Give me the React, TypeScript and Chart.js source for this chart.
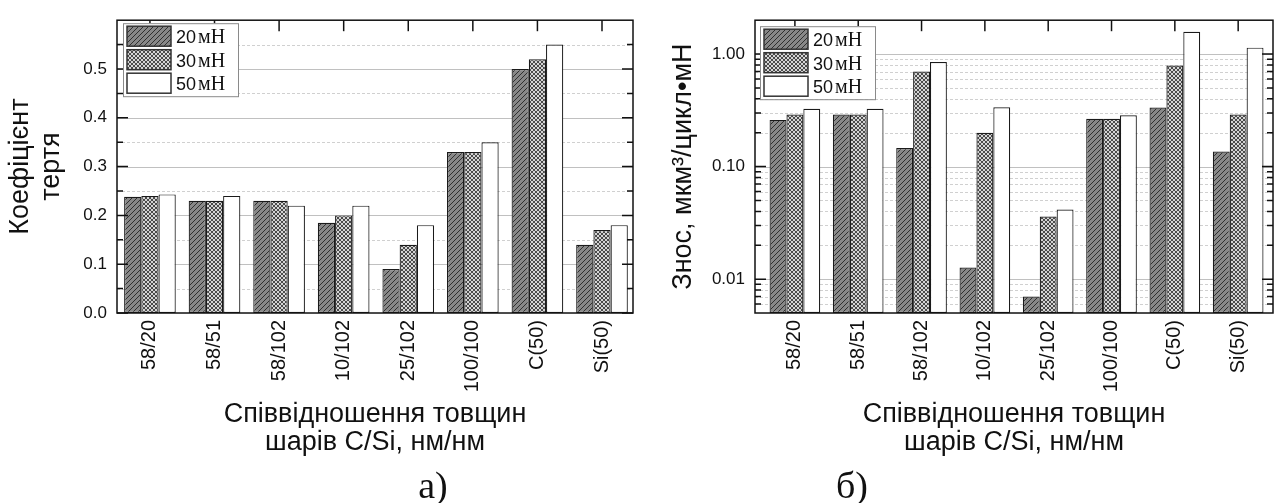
import React, { useEffect, useRef } from 'react';
import { Chart, registerables } from 'chart.js';

Chart.register(...registerables);

const SANS = '"Liberation Sans", Arial, sans-serif';
const SERIF = '"Liberation Serif", "Times New Roman", serif';

// ---- data ----
const categories = ['58/20', '58/51', '58/102', '10/102', '25/102', '100/100', 'C(50)', 'Si(50)'];
const loads = ['20', '30', '50'];
const loadUnit = 'мН';

const friction20 = [0.238, 0.23, 0.23, 0.185, 0.09, 0.33, 0.5, 0.14];
const friction30 = [0.24, 0.23, 0.23, 0.2, 0.14, 0.33, 0.52, 0.17];
const friction50 = [0.243, 0.24, 0.22, 0.22, 0.18, 0.35, 0.55, 0.18];

const wear20 = [0.26, 0.29, 0.146, 0.0127, 0.007, 0.266, 0.335, 0.136];
const wear30 = [0.29, 0.29, 0.7, 0.2, 0.036, 0.266, 0.79, 0.29];
const wear50 = [0.327, 0.327, 0.85, 0.337, 0.0415, 0.286, 1.58, 1.14];

const frictionTicks = [0, 0.1, 0.2, 0.3, 0.4, 0.5];
const frictionMinor = [0.05, 0.15, 0.25, 0.35, 0.45, 0.55];
const wearTicks = [0.01, 0.1, 1];
const wearMinor = [0.006, 0.007, 0.008, 0.009, 0.02, 0.03, 0.04, 0.05, 0.06, 0.07, 0.08, 0.09, 0.2, 0.3, 0.4, 0.5, 0.6, 0.7, 0.8, 0.9];

const xTitle = ['Співвідношення товщин', 'шарів C/Si, нм/нм'];
const frictionTitle = ['Коефіцієнт', 'тертя'];
const wearTitle = 'Знос, мкм³/цикл•мН';

function makePatterns(ctx: CanvasRenderingContext2D) {
  const h = document.createElement('canvas');
  h.width = 5; h.height = 5;
  const g = h.getContext('2d')!;
  g.fillStyle = '#888888';
  g.fillRect(0, 0, 5, 5);
  g.strokeStyle = '#303030';
  g.lineWidth = 1;
  g.beginPath();
  g.moveTo(-1, 6); g.lineTo(6, -1);
  g.moveTo(-1, 1); g.lineTo(1, -1);
  g.moveTo(4, 6); g.lineTo(6, 4);
  g.stroke();

  const c = document.createElement('canvas');
  c.width = 4; c.height = 4;
  const k = c.getContext('2d')!;
  k.fillStyle = '#d4d4d4';
  k.fillRect(0, 0, 4, 4);
  k.strokeStyle = '#4a4a4a';
  k.lineWidth = 1;
  k.beginPath();
  k.moveTo(0, 0); k.lineTo(4, 4);
  k.moveTo(4, 0); k.lineTo(0, 4);
  k.stroke();

  return [ctx.createPattern(h, 'repeat')!, ctx.createPattern(c, 'repeat')!, '#ffffff'];
}

const decorPlugin = {
  id: 'decor',
  beforeDatasetsDraw(chart: any, _a: any, o: any) {
    const { ctx, chartArea: ca, scales } = chart;
    const y = scales.y;
    ctx.save();
    ctx.beginPath();
    ctx.rect(ca.left, ca.top, ca.right - ca.left, ca.bottom - ca.top);
    ctx.clip();
    ctx.lineWidth = 1;
    ctx.strokeStyle = '#d0d0d0';
    ctx.setLineDash([3, 2]);
    for (const v of o.minor) {
      const py = Math.round(y.getPixelForValue(v)) + 0.5;
      ctx.beginPath(); ctx.moveTo(ca.left, py); ctx.lineTo(ca.right, py); ctx.stroke();
    }
    ctx.setLineDash([]);
    ctx.strokeStyle = '#c0c0c0';
    for (const v of o.major) {
      const py = Math.round(y.getPixelForValue(v)) + 0.5;
      ctx.beginPath(); ctx.moveTo(ca.left, py); ctx.lineTo(ca.right, py); ctx.stroke();
    }
    ctx.restore();
  },
  afterDatasetsDraw(chart: any, _a: any, o: any) {
    const { ctx, chartArea: ca, scales } = chart;
    const x = scales.x, y = scales.y;
    ctx.save();
    ctx.strokeStyle = '#111';
    ctx.lineWidth = 1.5;
    const tick = (v: number, len: number) => {
      const py = y.getPixelForValue(v);
      ctx.beginPath();
      ctx.moveTo(ca.left, py); ctx.lineTo(ca.left + len, py);
      ctx.moveTo(ca.right, py); ctx.lineTo(ca.right - len, py);
      ctx.stroke();
    };
    for (const v of o.major) tick(v, 11);
    for (const v of o.minor) tick(v, 6);
    categories.forEach((_c, i) => {
      const px = x.getPixelForValue(i);
      ctx.beginPath(); ctx.moveTo(px, ca.top); ctx.lineTo(px, ca.top + 11); ctx.stroke();
    });
    ctx.strokeRect(ca.left, ca.top, ca.right - ca.left, ca.bottom - ca.top);

    // legend
    const lx = ca.left + o.legendDx, ly = ca.top + o.legendDy;
    ctx.fillStyle = '#fff';
    ctx.fillRect(lx, ly, 115, 73);
    ctx.lineWidth = 1;
    ctx.strokeStyle = '#8a8a8a';
    ctx.strokeRect(lx + 0.5, ly + 0.5, 115, 73);
    chart.data.datasets.forEach((ds: any, i: number) => {
      const sy = ly + 3 + i * 23.5;
      ctx.fillStyle = ds.backgroundColor;
      ctx.fillRect(lx + 4, sy, 44, 20);
      ctx.lineWidth = 1.5;
      ctx.strokeStyle = '#333';
      ctx.strokeRect(lx + 4, sy, 44, 20);
      ctx.fillStyle = '#111';
      ctx.textBaseline = 'alphabetic';
      ctx.textAlign = 'left';
      ctx.font = `18px ${SANS}`;
      const tx = lx + 53;
      ctx.fillText(loads[i], tx, sy + 17);
      const w = ctx.measureText(loads[i]).width;
      ctx.font = `20px ${SERIF}`;
      ctx.fillText(loadUnit, tx + w + 2, sy + 17);
    });

    ctx.fillStyle = '#111';
    ctx.font = `38px ${SERIF}`;
    ctx.textAlign = 'center';
    ctx.textBaseline = 'alphabetic';
    ctx.fillText(o.label, o.labelX, 498);
    ctx.restore();
  },
};

type Panel = {
  series: number[][];
  log: boolean;
  yMin: number; yMax: number;
  xMin: number; xMax: number;
  yTicks: number[]; yMinor: number[];
  yTitle: string | string[]; yTitlePad: number;
  yAxisWidth: number; padRight: number; padTop: number;
  digits: number;
  label: string; labelX: number;
  legendDx: number; legendDy: number;
  width: number;
};

function buildChart(canvas: HTMLCanvasElement, p: Panel) {
  const ctx = canvas.getContext('2d')!;
  const fills = makePatterns(ctx);
  return new Chart(ctx, {
    type: 'bar',
    data: {
      datasets: p.series.map((vals, si) => ({
        label: loads[si] + ' ' + loadUnit,
        data: vals.map((v, i) => ({ x: i, y: v })),
        backgroundColor: fills[si] as any,
        borderColor: '#1a1a1a',
        borderWidth: 1.2,
        borderSkipped: false,
        categoryPercentage: 0.8,
        barPercentage: 1,
      })),
    },
    options: {
      animation: false,
      responsive: false,
      maintainAspectRatio: false,
      layout: { padding: { left: 0, right: p.padRight, top: p.padTop, bottom: 0 } },
      plugins: {
        legend: { display: false },
        tooltip: { enabled: false },
        decor: {
          major: p.yTicks, minor: p.yMinor, label: p.label, labelX: p.labelX,
          legendDx: p.legendDx, legendDy: p.legendDy,
        },
      } as any,
      scales: {
        x: {
          type: 'linear',
          offset: false,
          min: p.xMin, max: p.xMax,
          grid: { display: false, drawTicks: false, offset: false },
          border: { display: false },
          afterBuildTicks: (s: any) => { s.ticks = categories.map((_c, i) => ({ value: i })); },
          afterFit: (s: any) => { s.height = 190; },
          ticks: {
            autoSkip: false, maxRotation: 90, minRotation: 90, padding: 7,
            color: '#111', font: { family: SANS, size: 20 },
            callback: (v: any) => categories[Math.round(Number(v))] ?? '',
          },
          title: {
            display: true, text: xTitle, color: '#111',
            font: { family: SANS, size: 27, lineHeight: 1.04 },
            padding: { top: 0, bottom: 46 },
          },
        },
        y: {
          type: p.log ? 'logarithmic' : 'linear',
          min: p.yMin, max: p.yMax,
          grid: { display: false, drawTicks: false },
          border: { display: false },
          afterBuildTicks: (s: any) => { s.ticks = p.yTicks.map((v) => ({ value: v })); },
          afterFit: (s: any) => { s.width = p.yAxisWidth; },
          ticks: {
            padding: 10, color: '#111', font: { family: SANS, size: 17 },
            callback: (v: any) => Number(v).toFixed(p.digits),
          },
          title: {
            display: true, text: p.yTitle, color: '#111',
            font: { family: SANS, size: 27, lineHeight: 1.15 },
            padding: { top: p.yTitlePad, bottom: 0 },
          },
        },
      } as any,
    },
    plugins: [decorPlugin as any],
  });
}

const leftPanel: Panel = {
  series: [friction20, friction30, friction50], log: false,
  yMin: 0, yMax: 0.6, xMin: -0.51, xMax: 7.48,
  yTicks: frictionTicks, yMinor: frictionMinor,
  yTitle: frictionTitle, yTitlePad: 5,
  yAxisWidth: 117, padRight: 7, padTop: 13, digits: 1,
  label: 'а)', labelX: 433, legendDx: 6, legendDy: 3, width: 640,
};

const rightPanel: Panel = {
  series: [wear20, wear30, wear50], log: true,
  yMin: 0.005, yMax: 2, xMin: -0.63, xMax: 7.55,
  yTicks: wearTicks, yMinor: wearMinor,
  yTitle: wearTitle, yTitlePad: 28,
  yAxisWidth: 115, padRight: 4, padTop: 9, digits: 2,
  label: 'б)', labelX: 212, legendDx: 5, legendDy: 6, width: 637,
};

function ChartPanel({ panel, left }: { panel: Panel; left: number }) {
  const ref = useRef<HTMLCanvasElement>(null);
  useEffect(() => {
    if (!ref.current) return;
    const chart = buildChart(ref.current, panel);
    return () => chart.destroy();
  }, [panel]);
  return (
    <canvas
      ref={ref}
      width={panel.width}
      height={503}
      style={{ position: 'absolute', left, top: 0, width: panel.width, height: 503 }}
    />
  );
}

export default function App() {
  return (
    <div style={{ position: 'absolute', left: 0, top: 0, width: 1277, height: 503, background: '#ffffff', overflow: 'hidden' }}>
      <ChartPanel panel={leftPanel} left={0} />
      <ChartPanel panel={rightPanel} left={640} />
    </div>
  );
}
